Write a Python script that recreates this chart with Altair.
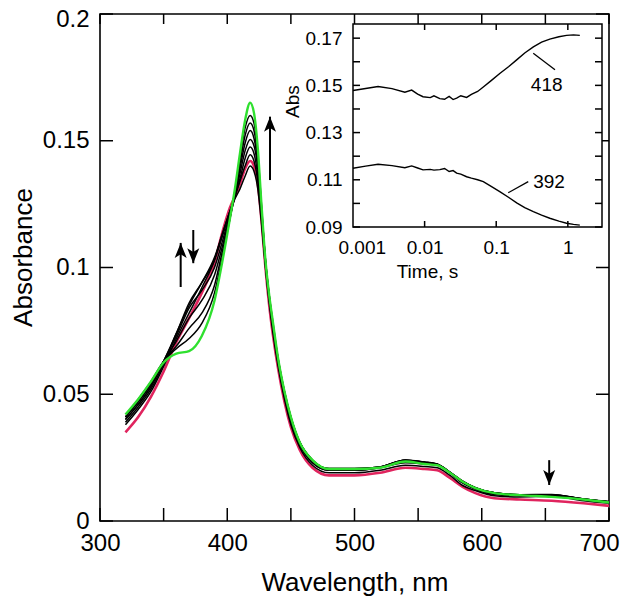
import altair as alt
import pandas as pd

# ---------------- data: main spectra ----------------
wavelength = [320, 330, 340, 350, 360, 370, 380, 390, 396, 402, 406, 410, 414, 418, 421,
              424, 427, 430, 433, 436, 440, 445, 450, 457, 467, 480, 500, 520, 540, 555,
              565, 575, 585, 595, 610, 630, 655, 680, 700]

spec_initial = [0.035, 0.041, 0.049, 0.059, 0.0705, 0.080, 0.090, 0.102, 0.1136, 0.1235, 0.128, 0.133, 0.139, 0.142, 0.140,
                0.133, 0.118, 0.100, 0.085, 0.073, 0.060, 0.047, 0.037, 0.028, 0.021, 0.018, 0.018, 0.019, 0.021, 0.0205,
                0.020, 0.017, 0.0135, 0.011, 0.009, 0.0085, 0.008, 0.007, 0.006]
spec_b1 = [0.038, 0.044, 0.051, 0.061, 0.072, 0.082, 0.092, 0.103, 0.113, 0.122, 0.127, 0.131, 0.136, 0.140, 0.138,
           0.131, 0.117, 0.100, 0.086, 0.074, 0.061, 0.048, 0.038, 0.029, 0.022, 0.019, 0.019, 0.020, 0.022, 0.0215,
           0.021, 0.018, 0.014, 0.012, 0.010, 0.0095, 0.0098, 0.008, 0.007]
spec_b2 = [0.039, 0.045, 0.052, 0.062, 0.074, 0.085, 0.094, 0.104, 0.113, 0.122, 0.128, 0.134, 0.140, 0.1445, 0.142,
           0.134, 0.119, 0.101, 0.087, 0.075, 0.062, 0.049, 0.039, 0.030, 0.023, 0.020, 0.020, 0.021, 0.023, 0.0225,
           0.022, 0.019, 0.015, 0.0125, 0.0105, 0.010, 0.0102, 0.0085, 0.0075]
spec_b3 = [0.040, 0.046, 0.053, 0.063, 0.074, 0.086, 0.094, 0.103, 0.112, 0.122, 0.128, 0.135, 0.143, 0.1475, 0.145,
           0.136, 0.120, 0.102, 0.088, 0.076, 0.063, 0.050, 0.040, 0.030, 0.023, 0.020, 0.020, 0.021, 0.0235, 0.023,
           0.0222, 0.019, 0.015, 0.0128, 0.0108, 0.0102, 0.0104, 0.0086, 0.0076]
spec_b4 = [0.040, 0.046, 0.053, 0.063, 0.073, 0.084, 0.091, 0.100, 0.110, 0.121, 0.128, 0.137, 0.146, 0.1505, 0.148,
           0.139, 0.121, 0.102, 0.088, 0.076, 0.063, 0.050, 0.040, 0.031, 0.024, 0.0205, 0.0205, 0.0212, 0.0238, 0.0232,
           0.0224, 0.0192, 0.0155, 0.013, 0.011, 0.0104, 0.0105, 0.0087, 0.0077]
spec_b5 = [0.041, 0.047, 0.054, 0.063, 0.071, 0.080, 0.087, 0.097, 0.108, 0.120, 0.128, 0.139, 0.149, 0.154, 0.151,
           0.141, 0.122, 0.103, 0.088, 0.077, 0.063, 0.050, 0.040, 0.031, 0.024, 0.0206, 0.0206, 0.0213, 0.024, 0.0233,
           0.0225, 0.0193, 0.0156, 0.0131, 0.0111, 0.0104, 0.0104, 0.0087, 0.0076]
spec_b6 = [0.041, 0.047, 0.054, 0.063, 0.069, 0.076, 0.082, 0.093, 0.106, 0.119, 0.129, 0.141, 0.152, 0.157, 0.154,
           0.143, 0.123, 0.103, 0.089, 0.077, 0.064, 0.051, 0.041, 0.031, 0.024, 0.0207, 0.0207, 0.0213, 0.0241, 0.0232,
           0.0224, 0.0193, 0.0157, 0.0131, 0.0111, 0.0103, 0.0102, 0.0087, 0.0075]
spec_b7 = [0.041, 0.048, 0.055, 0.063, 0.068, 0.072, 0.078, 0.090, 0.104, 0.119, 0.130, 0.143, 0.155, 0.160, 0.157,
           0.145, 0.124, 0.103, 0.089, 0.078, 0.064, 0.051, 0.041, 0.031, 0.024, 0.0207, 0.0207, 0.0213, 0.0241, 0.0231,
           0.0223, 0.0192, 0.0157, 0.0131, 0.0111, 0.0103, 0.0100, 0.0087, 0.0075]
spec_final = [0.042, 0.048, 0.055, 0.0625, 0.066, 0.067, 0.073, 0.087, 0.102, 0.119, 0.131, 0.145, 0.158, 0.165, 0.161,
              0.147, 0.124, 0.103, 0.089, 0.078, 0.064, 0.051, 0.041, 0.031, 0.024, 0.0205, 0.0205, 0.021, 0.0235, 0.0225,
              0.022, 0.019, 0.0155, 0.013, 0.011, 0.0102, 0.0095, 0.0085, 0.0073]

series_names = ["initial", "s1", "s2", "s3", "s4", "s5", "s6", "s7", "final"]
series_values = [spec_initial, spec_b1, spec_b2, spec_b3, spec_b4, spec_b5, spec_b6, spec_b7, spec_final]

# ---------------- data: inset kinetic traces ----------------
time_s = [0.001, 0.0015, 0.00224, 0.0035, 0.0053, 0.0066, 0.008, 0.0095, 0.012, 0.0135, 0.0163, 0.019,
          0.022, 0.025, 0.028, 0.032, 0.0386, 0.045, 0.055, 0.066, 0.085, 0.112, 0.15, 0.193, 0.25,
          0.33, 0.43, 0.56, 0.75, 0.96, 1.2, 1.47]
abs_418 = [0.1478, 0.1487, 0.1495, 0.1486, 0.1471, 0.1480, 0.1463, 0.1452, 0.1448, 0.1456, 0.1444, 0.1441,
           0.1453, 0.1440, 0.1446, 0.1456, 0.1449, 0.1462, 0.1474, 0.1493, 0.1520, 0.1550, 0.1580, 0.1608, 0.1637,
           0.1663, 0.1683, 0.1696, 0.1706, 0.1712, 0.1714, 0.1712]
abs_392 = [0.1149, 0.1158, 0.1166, 0.1160, 0.1151, 0.1159, 0.1150, 0.1142, 0.1144, 0.1141, 0.1143, 0.1148,
           0.1135, 0.1139, 0.1128, 0.1124, 0.1113, 0.1107, 0.1100, 0.1092, 0.1072, 0.1050, 0.1025, 0.1002, 0.0982,
           0.0965, 0.0950, 0.0937, 0.0925, 0.0916, 0.0911, 0.0908]

trace_names = ["418", "392"]
label_t = [0.507, 0.546]
label_a = [0.1502, 0.1091]
leader_t1 = [0.329, 0.147]
leader_t2 = [0.662, 0.280]
leader_a1 = [0.1636, 0.1045]
leader_a2 = [0.1566, 0.1092]

# ---------------- ticks / labels ----------------
main_x_ticks = [300, 350, 400, 450, 500, 550, 600, 650, 700]
main_x_labels = [300, 400, 500, 600, 700]
main_y_ticks = [0, 0.05, 0.1, 0.15, 0.2]
inset_x_ticks = [0.01, 0.1, 1]
inset_x_labels = [0.001, 0.01, 0.1, 1]
inset_y_ticks = [0.09, 0.10, 0.11, 0.12, 0.13, 0.14, 0.15, 0.16, 0.17]
inset_y_labels = [0.09, 0.11, 0.13, 0.15, 0.17]

# arrows (wavelength, from absorbance, to absorbance)
arrow_wl = [363.4, 373.3, 433.6, 653]
arrow_from = [0.0923, 0.1148, 0.1345, 0.0240]
arrow_to = [0.1097, 0.1017, 0.1595, 0.0142]
arrow_dir = ["up", "down", "up", "down"]

# ---------------- layout constants ----------------
FONT = "Liberation Sans"
W, H = 509, 507
IX0, IX1 = 253, 502     # inset pixel extent inside plot area
IY0, IY1 = 213, 10
UP_PATH = "M0,0 L0.8,2 L0,1.5 L-0.8,2 Z"
DOWN_PATH = "M0,0 L0.8,-2 L0,-1.5 L-0.8,-2 Z"

rows = []
for name, vals in zip(series_names, series_values):
    for w, a in zip(wavelength, vals):
        rows.append({"wl": w, "A": a, "series": name})
spec_df = pd.DataFrame(rows)

xs = alt.Scale(domain=[300, 700], nice=False, zero=False)
ys = alt.Scale(domain=[0, 0.2], nice=False, zero=False)

x_main = alt.X("wl:Q", scale=xs, axis=alt.Axis(
    values=main_x_labels, format="d", ticks=False, tickSize=0, domain=False, grid=False,
    labelFontSize=24, labelPadding=10, labelFlush=False, labelOverlap=False,
    labelOffset={"condition": {"test": "datum.value >= 690", "value": -10}, "value": 0},
    title="Wavelength, nm", titleFontSize=26, titleFontWeight="normal",
    titleX=W / 2, titleY=48, titleBaseline="top", titleAlign="center"))
y_main = alt.Y("A:Q", scale=ys, axis=alt.Axis(
    values=main_y_ticks, format=".2~f", ticks=False, tickSize=0, domain=False, grid=False,
    labelFontSize=24, labelPadding=11, labelOverlap=False,
    labelOffset={"condition": {"test": "datum.value >= 0.19", "value": 5}, "value": 0},
    title="Absorbance", titleFontSize=26, titleFontWeight="normal",
    titleX=-77, titleY=243, titleAlign="center", titleBaseline="middle"))

red = alt.Chart(spec_df).transform_filter("datum.series == 'initial'").mark_line(
    color="#e0245e", strokeWidth=2.6, interpolate="monotone").encode(x=x_main, y=y_main)
blacks = alt.Chart(spec_df).transform_filter(
    "datum.series != 'initial' && datum.series != 'final'").mark_line(
    color="black", strokeWidth=1.5, interpolate="monotone").encode(
    x=x_main, y=y_main, detail="series:N")
green = alt.Chart(spec_df).transform_filter("datum.series == 'final'").mark_line(
    color="#2fe02f", strokeWidth=2.4, interpolate="monotone").encode(x=x_main, y=y_main)

tx = pd.DataFrame({"wl": main_x_ticks})
ty = pd.DataFrame({"A": main_y_ticks})
tick_style = dict(color="black", strokeWidth=1.5)
bottom_ticks = alt.Chart(tx).mark_rule(**tick_style).encode(x=x_main, y=alt.value(H), y2=alt.value(H - 13))
top_ticks = alt.Chart(tx).mark_rule(**tick_style).encode(x=x_main, y=alt.value(0), y2=alt.value(10))
left_ticks = alt.Chart(ty).mark_rule(**tick_style).encode(y=y_main, x=alt.value(0), x2=alt.value(13))
right_ticks = alt.Chart(ty).mark_rule(**tick_style).encode(y=y_main, x=alt.value(W), x2=alt.value(W - 13))

shaft_df = pd.DataFrame({"wl": arrow_wl, "A": arrow_from, "A2": arrow_to})
head_df = pd.DataFrame({"wl": arrow_wl, "A": arrow_to, "dir": arrow_dir})
shafts = alt.Chart(shaft_df).mark_rule(color="black", strokeWidth=2).encode(x=x_main, y=y_main, y2="A2:Q")
heads = alt.Chart(head_df).mark_point(filled=True, color="black", opacity=1, size=225, strokeWidth=0).encode(
    x=x_main, y=y_main,
    shape=alt.Shape("dir:N", scale=alt.Scale(domain=["up", "down"], range=[UP_PATH, DOWN_PATH]), legend=None))

main_layer = alt.layer(red, blacks, green, bottom_ticks, top_ticks, left_ticks, right_ticks, shafts, heads)

# ---------------- inset ----------------
xi = alt.Scale(type="log", domain=[0.001, 3.0], range=[IX0, IX1], nice=False)
yi = alt.Scale(domain=[0.09, 0.176], range=[IY0, IY1], nice=False, zero=False)

x_in = alt.X("t:Q", scale=xi, axis=alt.Axis(
    orient="bottom", offset=-(H - IY0), values=inset_x_labels, format=".3~f",
    ticks=False, tickSize=0, domain=False, grid=False, zindex=2,
    labelFontSize=19, labelPadding=11, labelFlush=True, labelFlushOffset=15, labelOverlap=False,
    title="Time, s", titleFontSize=19, titleFontWeight="normal",
    titleX=327, titleY=35, titleBaseline="top", titleAlign="center"))
y_in = alt.Y("a:Q", scale=yi, axis=alt.Axis(
    orient="left", offset=-IX0, values=inset_y_labels, format=".2f",
    ticks=False, tickSize=0, domain=False, grid=False, zindex=2,
    labelFontSize=19, labelPadding=11, labelOverlap=False,
    title="Abs", titleFontSize=19, titleFontWeight="normal",
    titleX=-61, titleY=87, titleAlign="center", titleBaseline="middle"))

frame_df = pd.DataFrame({"t": [0.001], "t2": [3.0], "a": [0.09], "a2": [0.176]})
inset_frame = alt.Chart(frame_df).mark_rect(fill="white", stroke="black", strokeWidth=1.5).encode(
    x=x_in, x2="t2:Q", y=y_in, y2="a2:Q")

trace_rows = []
for t, a1, a2 in zip(time_s, abs_418, abs_392):
    trace_rows.append({"t": t, "a": a1, "trace": "418"})
    trace_rows.append({"t": t, "a": a2, "trace": "392"})
trace_df = pd.DataFrame(trace_rows)
traces = alt.Chart(trace_df).mark_line(color="black", strokeWidth=1.4).encode(
    x=x_in, y=y_in, detail="trace:N")

itx = pd.DataFrame({"t": inset_x_ticks})
ity = pd.DataFrame({"a": inset_y_ticks})
in_bottom = alt.Chart(itx).mark_rule(**tick_style).encode(x=x_in, y=alt.value(IY0), y2=alt.value(IY0 - 6))
in_top = alt.Chart(itx).mark_rule(**tick_style).encode(x=x_in, y=alt.value(IY1), y2=alt.value(IY1 + 6))
in_left = alt.Chart(ity).mark_rule(**tick_style).encode(y=y_in, x=alt.value(IX0), x2=alt.value(IX0 + 7))
in_right = alt.Chart(ity).mark_rule(**tick_style).encode(y=y_in, x=alt.value(IX1), x2=alt.value(IX1 - 7))

lab_df = pd.DataFrame({"t": label_t, "a": label_a, "txt": trace_names})
labels = alt.Chart(lab_df).mark_text(fontSize=19, align="center", baseline="middle", color="black").encode(
    x=x_in, y=y_in, text="txt:N")
lead_df = pd.DataFrame({"t": leader_t1, "t2": leader_t2, "a": leader_a1, "a2": leader_a2})
leaders = alt.Chart(lead_df).mark_rule(color="black", strokeWidth=1.3).encode(
    x=x_in, x2="t2:Q", y=y_in, y2="a2:Q")

inset_layer = alt.layer(inset_frame, traces, in_bottom, in_top, in_left, in_right, leaders, labels)

chart = alt.layer(main_layer, inset_layer).resolve_scale(
    x="independent", y="independent"
).properties(
    width=W, height=H,
    autosize=alt.AutoSizeParams(type="none"),
    padding={"left": 92, "top": 6, "right": 12, "bottom": 76},
).configure_view(
    stroke="black", strokeWidth=1.6
).configure_axis(
    labelFont=FONT, titleFont=FONT, labelColor="black", titleColor="black"
).configure_text(font=FONT)

chart.save("out.html", embed_options={"renderer": "svg", "actions": False})
